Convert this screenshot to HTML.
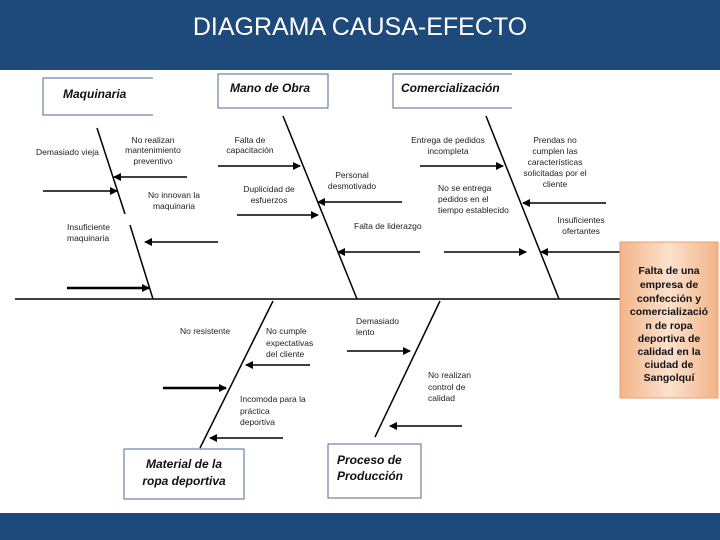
<!DOCTYPE html>
<html><head><meta charset="utf-8"><style>
body{margin:0;width:720px;height:540px;overflow:hidden;background:#fff;font-family:"Liberation Sans",sans-serif}
.hdr{position:absolute;left:0;top:0;width:720px;height:70px;background:#1d4a7a;color:#fff;font-size:25px;text-align:center;line-height:54px}
.ftr{position:absolute;left:0;top:513px;width:720px;height:27px;background:#1d4a7a}
svg{position:absolute;left:0;top:0}
</style></head><body>
<div class="hdr">DIAGRAMA CAUSA-EFECTO</div>
<svg width="720" height="540" font-family="Liberation Sans, sans-serif">
<defs>
<marker id="a" markerWidth="8" markerHeight="8" refX="7" refY="4" orient="auto" markerUnits="userSpaceOnUse"><path d="M0,0 L8,4 L0,8z" fill="#000"/></marker>
<linearGradient id="g" x1="0" x2="1"><stop offset="0" stop-color="#f3b489"/><stop offset=".5" stop-color="#fbe1cd"/><stop offset="1" stop-color="#f3b489"/></linearGradient>
</defs>
<g stroke="#4a6a9a" fill="none" stroke-width="1">
<path d="M153,78 H43 V115 H153"/>
<rect x="218" y="74" width="110" height="34"/>
<path d="M512,74 H393 V108 H512"/>
<rect x="124" y="449" width="120" height="50"/>
<rect x="328" y="444" width="93" height="54"/>
</g>
<g font-weight="bold" font-style="italic" font-size="12" fill="#111">
<text x="63" y="98">Maquinaria</text>
<text x="230" y="92">Mano de Obra</text>
<text x="401" y="92">Comercialización</text>
<text x="184" y="468" text-anchor="middle">Material de la</text>
<text x="184" y="485" text-anchor="middle">ropa deportiva</text>
<text x="337" y="464">Proceso de</text>
<text x="337" y="480">Producción</text>
</g>
<g stroke="#000" stroke-width="1.5" fill="none">
<line x1="15" y1="299" x2="622" y2="299"/>
<line x1="97" y1="128" x2="125" y2="214"/>
<line x1="130" y1="225" x2="153" y2="299"/>
<line x1="283" y1="116" x2="357" y2="299"/>
<line x1="486" y1="116" x2="559" y2="299"/>
<line x1="273" y1="301" x2="200" y2="448"/>
<line x1="440" y1="301" x2="375" y2="437"/>
</g>
<g stroke="#000" stroke-width="1.5" marker-end="url(#a)">
<line x1="187" y1="177" x2="114" y2="177"/>
<line x1="43" y1="191" x2="117" y2="191"/>
<line x1="218" y1="242" x2="145" y2="242"/>
<line x1="67" y1="288" x2="149" y2="288" stroke-width="2.5"/>
<line x1="218" y1="166" x2="300" y2="166"/>
<line x1="237" y1="215" x2="318" y2="215"/>
<line x1="402" y1="202" x2="318" y2="202"/>
<line x1="420" y1="252" x2="338" y2="252"/>
<line x1="420" y1="166" x2="503" y2="166"/>
<line x1="606" y1="203" x2="523" y2="203"/>
<line x1="444" y1="252" x2="526" y2="252"/>
<line x1="624" y1="252" x2="541" y2="252"/>
<line x1="310" y1="365" x2="246" y2="365"/>
<line x1="163" y1="388" x2="226" y2="388" stroke-width="2.5"/>
<line x1="283" y1="438" x2="210" y2="438"/>
<line x1="347" y1="351" x2="410" y2="351"/>
<line x1="462" y1="426" x2="390" y2="426"/>
</g>
<g font-size="8.5" fill="#222">
<text x="36" y="155">Demasiado vieja</text>
<text x="153" y="143" text-anchor="middle">No realizan</text>
<text x="153" y="153" text-anchor="middle">mantenimiento</text>
<text x="153" y="164" text-anchor="middle">preventivo</text>
<text x="174" y="198" text-anchor="middle">No innovan la</text>
<text x="174" y="209" text-anchor="middle">maquinaria</text>
<text x="67" y="230">Insuficiente</text>
<text x="67" y="241">maquinaria</text>
<text x="250" y="143" text-anchor="middle">Falta de</text>
<text x="250" y="153" text-anchor="middle">capacitación</text>
<text x="269" y="192" text-anchor="middle">Duplicidad de</text>
<text x="269" y="203" text-anchor="middle">esfuerzos</text>
<text x="352" y="178" text-anchor="middle">Personal</text>
<text x="352" y="189" text-anchor="middle">desmotivado</text>
<text x="354" y="229">Falta de liderazgo</text>
<text x="448" y="143" text-anchor="middle">Entrega de pedidos</text>
<text x="448" y="154" text-anchor="middle">incompleta</text>
<text x="438" y="191">No se entrega</text>
<text x="438" y="202">pedidos en el</text>
<text x="438" y="213">tiempo establecido</text>
<text x="555" y="143" text-anchor="middle">Prendas no</text>
<text x="555" y="154" text-anchor="middle">cumplen las</text>
<text x="555" y="165" text-anchor="middle">características</text>
<text x="555" y="176" text-anchor="middle">solicitadas por el</text>
<text x="555" y="187" text-anchor="middle">cliente</text>
<text x="581" y="223" text-anchor="middle">Insuficientes</text>
<text x="581" y="234" text-anchor="middle">ofertantes</text>
<text x="180" y="334">No resistente</text>
<text x="266" y="334">No cumple</text>
<text x="266" y="346">expectativas</text>
<text x="266" y="357">del cliente</text>
<text x="240" y="402">Incomoda para la</text>
<text x="240" y="414">práctica</text>
<text x="240" y="425">deportiva</text>
<text x="356" y="324">Demasiado</text>
<text x="356" y="335">lento</text>
<text x="428" y="378">No realizan</text>
<text x="428" y="390">control de</text>
<text x="428" y="401">calidad</text>
</g>
<rect x="620" y="242" width="98" height="156" fill="url(#g)" stroke="#e7a070"/>
<g font-size="10.5" font-weight="bold" fill="#111" text-anchor="middle">
<text x="669" y="274">Falta de una</text>
<text x="669" y="288">empresa de</text>
<text x="669" y="302">confección y</text>
<text x="669" y="315">comercializació</text>
<text x="669" y="329">n de ropa</text>
<text x="669" y="342">deportiva de</text>
<text x="669" y="355">calidad en la</text>
<text x="669" y="368">ciudad de</text>
<text x="669" y="381">Sangolquí</text>
</g>
</svg>
<div class="ftr"></div>
</body></html>
